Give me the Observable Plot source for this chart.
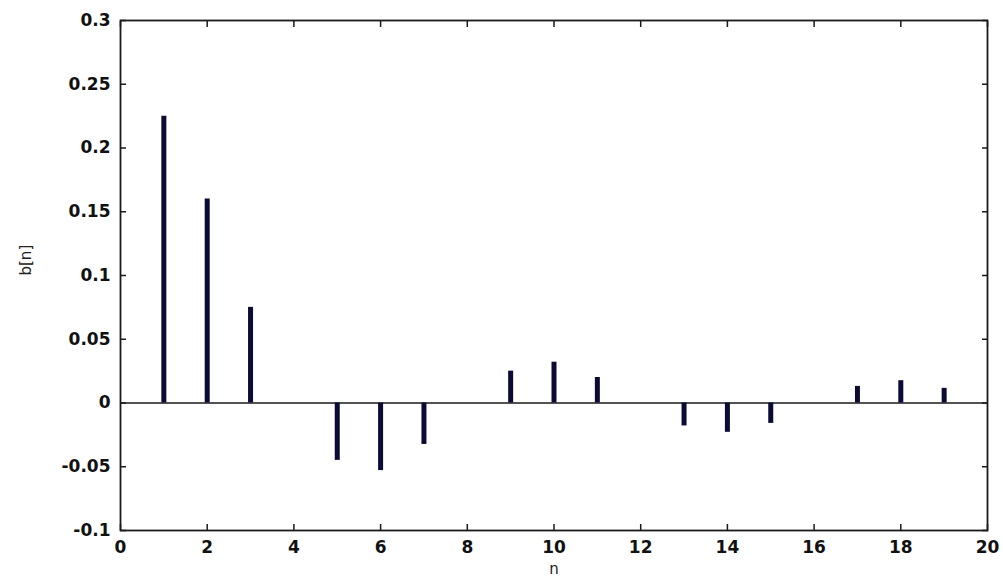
<!DOCTYPE html>
<html>
<head>
<meta charset="utf-8">
<script src="https://cdn.jsdelivr.net/npm/d3@7"></script>
<script src="https://cdn.jsdelivr.net/npm/@observablehq/plot@0.6"></script>
<style>
  html, body { margin: 0; padding: 0; background: #fff; }
  #chart svg { display: block; }
</style>
</head>
<body>
<div id="chart"></div>
<script>
// Coefficient index and value
const n = [0, 1, 2, 3, 4, 5, 6, 7, 8, 9, 10, 11, 12, 13, 14, 15, 16, 17, 18, 19];
const b = [0, 0.225, 0.16, 0.075, 0, -0.045, -0.053, -0.0325, 0, 0.025, 0.032, 0.02, 0, -0.018, -0.023, -0.016, 0, 0.013, 0.0175, 0.0115];

// Tick positions
const xTicks = [0, 2, 4, 6, 8, 10, 12, 14, 16, 18, 20];
const yTicks = [-0.1, -0.05, 0, 0.05, 0.1, 0.15, 0.2, 0.25, 0.3];

const data = n.map((k, i) => ({n: k, b: b[i]}));

const axisColor = "#1a1a1a";
const stemColor = "#0b0b33";
const fmtY = d => String(+d.toFixed(2));

const tickLabelStyle = {fontSize: 17, fontWeight: "bold", fill: "#111"};

const chart = Plot.plot({
  width: 1003,
  height: 581,
  marginLeft: 120,
  marginRight: 16,
  marginTop: 20,
  marginBottom: 51,
  style: {fontFamily: "DejaVu Sans, sans-serif", background: "#fff"},
  x: {domain: [0, 20], ticks: xTicks},
  y: {domain: [-0.1, 0.3], ticks: yTicks},
  marks: [
    Plot.ruleY([0], {stroke: axisColor, strokeWidth: 1.3}),
    Plot.ruleX(data, {x: "n", y1: 0, y2: "b", stroke: stemColor, strokeWidth: 5}),
    Plot.frame({stroke: axisColor, strokeWidth: 1.8}),
    // tick labels
    Plot.axisX(xTicks, {anchor: "bottom", tickSize: 0, tickPadding: 10, label: null, ...tickLabelStyle}),
    Plot.axisY(yTicks, {anchor: "left", tickSize: 0, tickPadding: 10, label: null, tickFormat: fmtY, ...tickLabelStyle}),
    // inward tick marks on all four sides
    Plot.axisX(xTicks, {anchor: "bottom", tickSize: 6, dy: -6, fill: "none", label: null, stroke: axisColor, strokeWidth: 1.5}),
    Plot.axisX(xTicks, {anchor: "top", tickSize: 6, dy: 6, fill: "none", label: null, stroke: axisColor, strokeWidth: 1.5}),
    Plot.axisY(yTicks, {anchor: "left", tickSize: 6, dx: 6, fill: "none", label: null, stroke: axisColor, strokeWidth: 1.5}),
    Plot.axisY(yTicks, {anchor: "right", tickSize: 6, dx: -6, fill: "none", label: null, stroke: axisColor, strokeWidth: 1.5}),
    // axis titles
    Plot.text(["n"], {frameAnchor: "bottom", dy: 43, fontSize: 15, fill: "#222"}),
    Plot.text(["b[n]"], {frameAnchor: "left", dx: -94, rotate: -90, fontSize: 15, fill: "#222"})
  ]
});

document.getElementById("chart").appendChild(chart);
</script>
</body>
</html>
